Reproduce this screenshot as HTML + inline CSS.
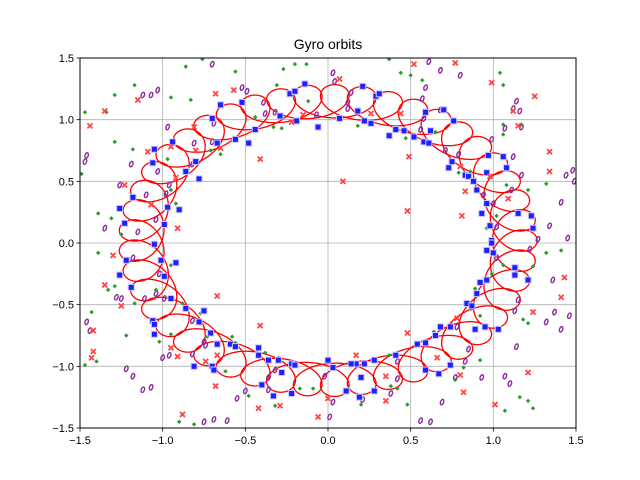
<!DOCTYPE html>
<html><head><meta charset="utf-8"><style>
body{margin:0;background:#fff}
svg{display:block}
text{font-family:"Liberation Sans","DejaVu Sans",sans-serif}
</style></head><body>
<svg id="chart" width="640" height="480" xmlns="http://www.w3.org/2000/svg">
<rect width="640" height="480" fill="#fff"/>
<text x="328" y="49" text-anchor="middle" font-size="14">Gyro orbits</text>
<clipPath id="clip"><rect x="80" y="58" width="496" height="370"/></clipPath>
<g id="grid"></g>
<g id="plot" clip-path="url(#clip)"></g>
<rect x="80" y="58" width="496" height="370" fill="none" stroke="#000" stroke-width="1"/>
<g id="ticks"></g>
</svg>
<script>
const xTicks=[-1.5,-1.0,-0.5,0.0,0.5,1.0,1.5];
const yTicks=[-1.5,-1.0,-0.5,0.0,0.5,1.0,1.5];
const tickLabels=["−1.5","−1.0","−0.5","0.0","0.5","1.0","1.5"];
// gyro orbit parameters: guiding-centre radius, radial & tangential gyro amplitudes, gyrations per revolution, revolutions, centre
const orbitRadius=[1.13];
const gyroRadial=[0.135];
const gyroTangential=[0.16];
const gyroCount=[22.5];
const revolutions=[2];
const orbitCenter=[0.0,0.02];
const blueX=[-0.14,-0.23,-0.20,-0.52,-0.65,-0.70,-0.06,-0.19,-0.29,-0.44,-0.48,-0.56,-0.67,-0.94,-1.05,-1.06,-0.80,-0.86,-0.78,-1.18,-1.26,-0.97,-0.90,-1.23,-0.99,
0.21,0.29,0.31,0.18,0.07,0.22,0.26,0.37,0.41,0.46,0.52,0.58,0.61,0.59,0.70,0.76,0.62,0.75,0.73,0.83,0.85,0.88,0.90,0.97,1.06,1.08,0.96,0.96,0.93,1.15,1.23,1.24,0.98,0.99,
-1.05,-1.01,-0.92,-1.22,-1.26,-0.99,-1.19,-0.95,-0.86,-0.75,-0.78,-1.06,-1.05,-1.05,-0.71,-0.67,-0.59,-0.56,-0.42,-0.42,-0.36,-0.30,-0.22,-0.20,-0.28,-0.40,-0.33,-0.22,-0.81,-0.70,-0.69,0.00,
0.99,1.00,0.96,1.13,1.13,1.21,0.96,0.92,0.90,0.84,0.87,0.95,1.03,0.89,0.68,0.74,0.65,0.54,0.59,0.41,0.28,0.22,0.17,0.14,0.03,0.20,0.28,0.11,0.19,0.59,0.67,0.74];
const blueY=[1.29,1.21,1.23,1.14,1.12,1.01,0.94,0.99,1.03,0.92,0.81,0.84,0.81,0.82,0.76,0.65,0.66,0.58,0.52,0.37,0.28,0.29,0.27,0.16,0.15,
1.27,1.19,1.21,1.07,1.01,0.99,0.97,0.87,0.92,0.91,0.86,0.82,0.81,1.06,1.08,0.99,0.91,0.66,0.61,0.55,0.54,0.50,0.43,0.71,0.70,0.61,0.57,0.32,0.24,0.24,0.22,0.12,0.14,0.02,
-0.01,-0.14,-0.16,-0.14,-0.26,-0.27,-0.36,-0.45,-0.53,-0.55,-0.64,-0.63,-0.66,-0.74,-0.73,-0.82,-0.82,-0.84,-0.85,-0.91,-0.95,-0.95,-0.98,-0.99,-1.05,-1.15,-1.24,-1.22,-1.00,-1.00,-1.03,-0.95,
0.00,-0.08,-0.06,-0.20,-0.26,-0.30,-0.30,-0.32,-0.41,-0.49,-0.51,-0.68,-0.70,-0.70,-0.68,-0.68,-0.75,-0.82,-0.81,-0.91,-0.95,-0.98,-0.98,-0.98,-1.01,-1.09,-1.20,-1.20,-1.25,-1.03,-1.06,-0.99];
const purpleX=[-0.70,-0.52,-0.49,-1.03,-1.07,-1.12,-0.39,-0.38,-0.32,-0.07,-0.97,-0.69,-0.81,-0.70,-1.46,-1.47,-1.19,-0.82,-1.03,-0.96,-0.98,-1.26,-1.10,-1.04,-1.15,-1.35,
0.61,0.68,0.80,0.03,0.04,0.14,0.12,0.12,0.59,0.57,0.58,0.68,0.56,0.71,0.79,1.14,1.12,1.16,1.07,1.17,0.99,1.12,1.17,0.94,1.00,1.11,1.44,1.48,1.49,1.41,1.34,1.45,1.27,1.02,
-1.18,-1.02,-1.28,-1.25,-1.11,-1.04,-0.99,-1.46,-1.44,-0.82,-0.75,-0.74,-0.82,-1.00,-0.96,-1.22,-1.18,-1.12,-1.07,-0.55,-0.50,-0.36,-0.36,-0.32,-0.75,-0.69,-0.61,-0.02,
1.22,1.02,1.36,1.15,1.13,1.37,1.46,1.32,1.41,0.87,0.78,0.85,0.83,1.14,0.77,0.93,1.07,1.10,0.69,0.56,0.62,0.42,0.42,0.38,0.21,0.03,0.01];
const purpleY=[1.45,1.26,1.23,1.24,1.20,1.20,1.14,1.05,1.06,1.04,0.94,0.97,0.81,0.82,0.71,0.66,0.64,0.64,0.58,0.47,0.40,0.47,0.39,0.19,0.09,0.12,
1.47,1.40,1.36,1.38,1.31,1.22,1.14,1.09,1.26,1.17,1.01,1.08,0.92,0.75,0.72,1.15,1.09,1.07,0.93,0.94,0.84,0.70,0.55,0.39,0.32,0.43,0.55,0.59,0.50,0.33,0.14,0.04,0.03,0.13,
-0.12,-0.25,-0.44,-0.45,-0.45,-0.41,-0.45,-0.64,-0.71,-0.63,-0.80,-0.83,-0.90,-0.93,-0.91,-1.02,-1.08,-1.19,-1.17,-1.26,-1.20,-1.09,-1.19,-1.03,-1.45,-1.43,-1.44,-1.08,
-0.05,-0.12,-0.30,-0.46,-0.55,-0.56,-0.59,-0.64,-0.70,-0.52,-0.68,-0.86,-0.96,-0.84,-1.09,-1.09,-1.08,-1.14,-1.29,-1.44,-1.45,-0.96,-1.10,-1.22,-1.27,-1.29,-1.41];
const greenX=[-0.76,-0.86,-0.56,-0.27,-0.20,-0.13,-0.31,-1.17,-1.29,-0.95,-0.83,-1.47,-1.34,-0.12,-0.44,-0.33,-0.28,-1.29,-1.18,-0.97,-0.71,-0.65,-1.49,-0.95,-0.92,-1.39,-1.31,-1.25,
0.37,0.44,0.50,0.57,1.04,1.06,0.18,0.47,0.65,1.06,1.17,1.06,0.79,0.86,1.08,1.21,1.32,1.02,0.96,
-1.39,-0.95,-1.33,-1.29,-1.17,-1.04,-1.43,-1.22,-1.02,-0.95,-0.77,-0.88,-0.73,-0.58,-0.56,-1.47,-1.40,-0.62,-0.48,-0.38,-0.30,-0.17,-0.09,-0.32,-0.90,-0.81,
1.32,1.41,1.06,1.24,0.99,0.89,0.92,1.18,1.21,0.64,0.75,0.37,0.92,0.82,0.77,0.38,0.42,0.20,0.48,1.16,1.21,1.24,1.07];
const greenY=[1.49,1.43,1.39,1.41,1.45,1.45,1.28,1.28,1.20,1.18,1.16,1.06,1.06,1.15,1.02,0.94,0.93,0.82,0.76,0.68,0.75,0.72,0.56,0.43,0.32,0.24,0.20,0.07,
1.49,1.38,1.36,1.32,1.38,1.28,0.95,0.85,0.90,0.96,0.96,0.88,0.57,0.58,0.47,0.43,0.48,0.22,0.12,
-0.08,-0.18,-0.38,-0.35,-0.49,-0.38,-0.56,-0.75,-0.80,-0.74,-0.57,-0.49,-0.76,-0.76,-0.81,-0.99,-0.96,-1.04,-1.24,-0.89,-0.93,-1.18,-1.18,-1.32,-1.45,-1.47,
-0.08,-0.06,-0.18,-0.19,-0.25,-0.37,-0.59,-0.62,-0.65,-0.72,-0.66,-0.91,-0.95,-1.01,-1.11,-1.16,-1.18,-1.31,-1.31,-1.25,-1.28,-1.34,-1.36];
const redX=[-1.15,-0.68,-0.57,-1.35,-1.44,-0.81,-0.95,-1.09,-0.80,-0.65,-0.41,-0.92,-1.23,-1.07,-0.91,-0.22,-0.15,
0.52,0.77,0.07,0.99,1.25,1.12,1.15,0.44,0.26,0.49,0.09,1.34,1.34,0.80,0.98,0.83,1.09,0.48,0.81,
-1.30,-1.35,-1.25,-0.67,-0.41,-1.42,-1.43,-1.42,-0.95,-0.91,-0.74,-0.67,-0.68,-0.88,-0.42,-0.29,-0.06,0.00,
1.43,1.41,1.24,0.78,0.48,0.17,0.35,0.35,0.80,0.82,1.21,1.01,0.66];
const redY=[1.16,1.21,1.24,1.07,0.95,0.94,0.78,0.74,0.75,0.77,0.68,0.53,0.47,0.31,0.12,0.98,1.04,
1.45,1.46,1.33,1.30,1.19,1.07,0.95,1.05,1.05,0.70,0.50,0.74,0.58,0.62,0.54,0.42,0.36,0.26,0.22,
-0.10,-0.34,-0.51,-0.43,-0.67,-0.88,-0.93,-0.71,-0.85,-0.92,-0.96,-0.91,-1.16,-1.39,-1.34,-1.32,-1.41,-1.26,
-0.28,-0.44,-0.56,-0.61,-0.73,-0.91,-1.08,-1.28,-1.07,-1.21,-1.05,-1.31,-0.93];

const NS='http://www.w3.org/2000/svg';
const X0=80,X1=576,Y0=428,Y1=58;
function sx(v){return X0+(v+1.5)/3*(X1-X0);}
function sy(v){return Y0-(v+1.5)/3*(Y0-Y1);}
function mk(tag,attrs,parent){const e=document.createElementNS(NS,tag);for(const k in attrs)e.setAttribute(k,attrs[k]);parent.appendChild(e);return e;}
const grid=document.getElementById('grid'),plot=document.getElementById('plot'),ticks=document.getElementById('ticks');
xTicks.forEach((t,i)=>{
 const g=mk('line',{x1:sx(t),x2:sx(t),y1:Y1,y2:Y0,stroke:'#b0b0b0','stroke-width':0.8},grid);
 
 
 const tk=mk('line',{x1:sx(t),x2:sx(t),y1:Y0,y2:Y0+3.5,stroke:'#000','stroke-width':0.8},ticks);
 
 
 const lb=mk('text',{x:sx(t),y:Y0+16,'text-anchor':'middle','font-size':11},ticks);
 lb.textContent=tickLabels[i];
 
 
});
yTicks.forEach((t,i)=>{
 const g=mk('line',{x1:X0,x2:X1,y1:sy(t),y2:sy(t),stroke:'#b0b0b0','stroke-width':0.8},grid);
 
 
 const tk=mk('line',{x1:X0-3.5,x2:X0,y1:sy(t),y2:sy(t),stroke:'#000','stroke-width':0.8},ticks);
 
 
 const lb=mk('text',{x:X0-6,y:sy(t)+4,'text-anchor':'end','font-size':11},ticks);
 lb.textContent=tickLabels[i];
 
 
});
let d='';const R=orbitRadius[0],a=gyroRadial[0],b=gyroTangential[0],N=gyroCount[0],M=revolutions[0];
const steps=8000;
for(let k=0;k<=steps;k++){
 const th=k/steps*2*Math.PI*M,ph=N*th;
 const r=R+a*Math.cos(ph),tg=-b*Math.sin(ph);
 const x=orbitCenter[0]+r*Math.cos(th)-tg*Math.sin(th);
 const y=orbitCenter[1]+r*Math.sin(th)+tg*Math.cos(th);
 d+=(k?'L':'M')+sx(x).toFixed(2)+' '+sy(y).toFixed(2);
}
const orbit=mk('path',{d:d,fill:'none',stroke:'#ff0000','stroke-width':1.3},plot);


purpleX.forEach((v,i)=>{
 const e=mk('ellipse',{cx:sx(v),cy:sy(purpleY[i]),rx:1.6,ry:2.8,fill:'none',stroke:'#8e2c9e','stroke-width':1.4,transform:`rotate(20 ${sx(v)} ${sy(purpleY[i])})`},plot);
 
 
});
greenX.forEach((v,i)=>{
 const cx=sx(v),cy=sy(greenY[i]);
 const e=mk('polygon',{points:`${cx},${cy-2.2} ${cx+2.2},${cy} ${cx},${cy+2.2} ${cx-2.2},${cy}`,fill:'#2a9a2a'},plot);
 
 
});
blueX.forEach((v,i)=>{
 const e=mk('rect',{x:sx(v)-3,y:sy(blueY[i])-3,width:6,height:6,fill:'#1f1fff',stroke:'#c8c8ff','stroke-width':1},plot);
 
 
});
redX.forEach((v,i)=>{
 const cx=sx(v),cy=sy(redY[i]);
 const e=mk('path',{d:`M${cx-2.5} ${cy-2.5}L${cx+2.5} ${cy+2.5}M${cx-2.5} ${cy+2.5}L${cx+2.5} ${cy-2.5}`,stroke:'#ff4545','stroke-width':1.8},plot);
 
 
});
</script>
</body></html>
